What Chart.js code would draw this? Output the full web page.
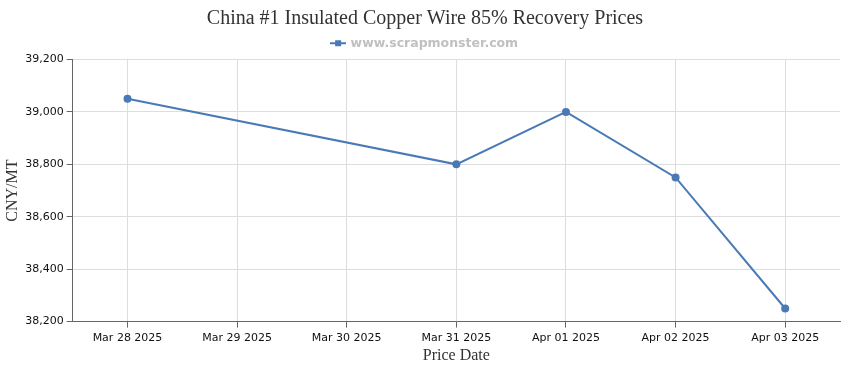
<!DOCTYPE html>
<html>
<head>
<meta charset="utf-8">
<script src="https://cdn.jsdelivr.net/npm/chart.js@4"></script>
<style>
  html, body { margin: 0; padding: 0; background: #fff; }
  #wrap { width: 850px; height: 370px; }
</style>
</head>
<body>
<div id="wrap"><canvas id="priceChart" width="850" height="370"></canvas></div>
<script>
var dates = ['Mar 28 2025', 'Mar 29 2025', 'Mar 30 2025', 'Mar 31 2025', 'Apr 01 2025', 'Apr 02 2025', 'Apr 03 2025'];
var prices = [39050, null, null, 38800, 39000, 38750, 38250];
var yTicks = [38200, 38400, 38600, 38800, 39000, 39200];

var lineColor = '#4a7ab5';

// legend marker: short line with a square in the middle
function legendMarker() {
  var c = document.createElement('canvas');
  c.width = 16; c.height = 8;
  var g = c.getContext('2d');
  g.strokeStyle = lineColor;
  g.lineWidth = 2;
  g.beginPath(); g.moveTo(0, 4); g.lineTo(16, 4); g.stroke();
  g.fillStyle = lineColor;
  g.fillRect(5, 1, 6, 6);
  return c;
}

document.addEventListener("DOMContentLoaded", function() {
  var ctx = document.getElementById('priceChart').getContext('2d');
  var marker = legendMarker();

  new Chart(ctx, {
    type: 'line',
    data: {
      labels: dates,
      datasets: [{
        label: 'www.scrapmonster.com',
        data: prices,
        borderColor: lineColor,
        backgroundColor: lineColor,
        borderWidth: 2,
        pointRadius: 4,
        pointBackgroundColor: lineColor,
        pointBorderWidth: 0,
        spanGaps: true,
        tension: 0
      }]
    },
    options: {
      responsive: false,
      animation: false,
      layout: { padding: { left: 0, right: 0, top: 5, bottom: 5 } },
      plugins: {
        title: {
          display: true,
          text: 'China #1 Insulated Copper Wire 85% Recovery Prices',
          color: '#333',
          font: { family: '"Liberation Serif", serif', size: 20, weight: 'normal' },
          padding: { top: 2, bottom: 0 }
        },
        legend: {
          display: true,
          labels: {
            color: '#c0c0c0',
            font: { family: '"DejaVu Sans", Verdana, sans-serif', size: 12.5, weight: 'bold' },
            usePointStyle: true,
            padding: 6,
            generateLabels: function(chart) {
              return [{
                text: chart.data.datasets[0].label,
                pointStyle: marker,
                fillStyle: lineColor,
                strokeStyle: lineColor,
                fontColor: '#c0c0c0',
                lineWidth: 0,
                datasetIndex: 0
              }];
            }
          }
        },
        tooltip: { enabled: false }
      },
      scales: {
        x: {
          offset: true,
          grid: { color: '#dddddd', offset: false, tickLength: 6, tickColor: '#666' },
          border: { color: '#666', width: 1 },
          ticks: {
            color: '#111',
            font: { family: '"DejaVu Sans", Tahoma, sans-serif', size: 11 },
            maxRotation: 0,
            autoSkip: false,
            padding: 4
          },
          title: {
            display: true,
            text: 'Price Date',
            color: '#333',
            font: { family: '"Liberation Serif", serif', size: 16 },
            padding: { top: -3, bottom: 0 }
          }
        },
        y: {
          min: 38200,
          max: 39200,
          afterBuildTicks: function(axis) {
            axis.ticks = yTicks.map(function(v) { return { value: v }; });
          },
          grid: { color: '#dddddd', tickLength: 6, tickColor: '#666' },
          border: { color: '#666', width: 1 },
          ticks: {
            color: '#111',
            font: { family: '"DejaVu Sans", Tahoma, sans-serif', size: 11 },
            padding: 3,
            callback: function(v) { return v.toLocaleString('en-US'); }
          },
          title: {
            display: true,
            text: 'CNY/MT',
            color: '#333',
            font: { family: '"Liberation Serif", serif', size: 16 },
            padding: { top: 3, bottom: 0 }
          }
        },
        // empty right-hand spacer so the plot stops short of the edge
        spacer: {
          position: 'right',
          min: 0,
          max: 1,
          grid: { display: false },
          border: { display: false },
          ticks: { display: false },
          afterFit: function(scale) { scale.width = 10; }
        }
      }
    }
  });
});
</script>
</body>
</html>
